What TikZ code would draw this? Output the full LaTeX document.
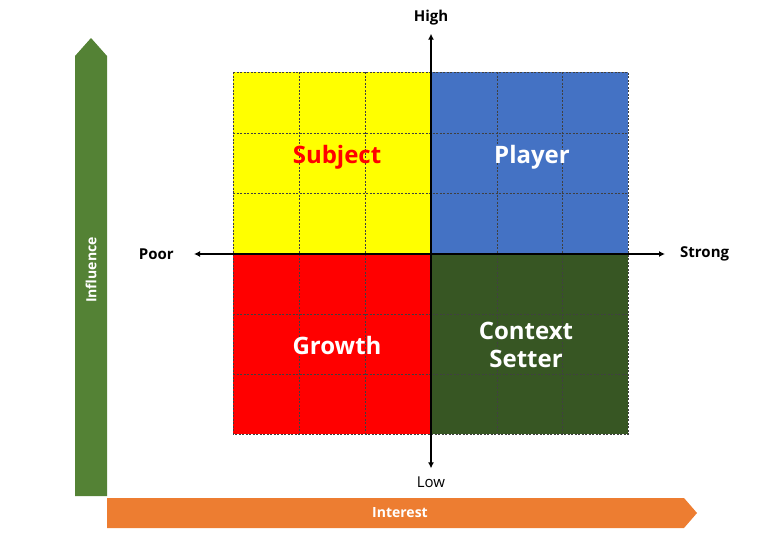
\documentclass[tikz,border=0pt]{standalone}
\usepackage{fontspec}
\setmainfont{Open Sans}
\usetikzlibrary{
	positioning				% relative placement
	, arrows.meta			% Latex tips on the axes
}

\definecolor{quadyellow}{HTML}{FFFF00}
\definecolor{quadblue}{HTML}{4472C4}
\definecolor{quadred}{HTML}{FF0000}
\definecolor{quaddarkgreen}{HTML}{375623}
\definecolor{influencegreen}{HTML}{548235}
\definecolor{interestorange}{HTML}{ED7D31}

\begin{document}
\begin{tikzpicture}[x=1pt, y=-1pt]
			\useasboundingbox (0, 0) rectangle (763, 546);
			\begin{scope}[
				quadrant/.style={draw=black!75, dash pattern=on 2pt off 1.5pt, line width=.9pt},
				cell/.style={draw=black!75, dash pattern=on 2pt off 1.5pt, line width=.9pt},
				quadlabel/.style={font=\fontsize{24}{26}\selectfont\bfseries, text=white, align=center},
				axislabel/.style={font=\fontsize{15}{17}\selectfont\bfseries, inner sep=0},
				axis/.style={draw=black, line width=1.4pt, {Latex[length=6pt,width=6pt]}-{Latex[length=6pt,width=6pt]}},
				barlabel/.style={font=\fontsize{14}{16}\selectfont\bfseries, text=white, inner sep=0}]

				%% Side bars
				\fill[influencegreen] (75, 496) -- (75, 56) -- (91, 38) -- (107, 56) -- (107, 496) -- cycle;
				\node[barlabel, rotate=90] (influence) at (91, 270) {Influence};
				\fill[interestorange] (107, 498) -- (684, 498) -- (697, 513) -- (684, 528) -- (107, 528) -- cycle;
				\node[barlabel] (interest) at (400, 513) {Interest};

				%% Quadrants
				\fill[quadyellow] (233, 72) rectangle (431, 254);
				\fill[quadblue] (431, 72) rectangle (628, 254);
				\fill[quadred] (233, 254) rectangle (431, 434);
				\fill[quaddarkgreen] (431, 254) rectangle (628, 434);

				% Cell lines
				\foreach \x in {299, 365, 497, 562} {
				\draw[cell] (\x, 72) -- (\x, 434);
				}
				\foreach \y in {133, 193, 314, 374} {
				\draw[cell] (233, \y) -- (628, \y);
				}
				\draw[quadrant] (233, 72) rectangle (628, 434);

				% Quadrant labels
				\node[quadlabel, text=quadred] (subject) at (337, 157) {Subject};
				\node[quadlabel] (player) at (532, 157) {Player};
				\node[quadlabel] (growth) at (337, 345) {Growth};
				\node[quadlabel, font=\fontsize{24}{28}\selectfont\bfseries] (setter) at (526, 345) {Context\\Setter};

				%% Axes
				\node[axislabel] (high) at (431, 18) {High};
				\node[axislabel, font=\fontsize{15}{17}\selectfont] (low) at (431, 482) {Low};
				\node[axislabel, anchor=east] (poor) at (174, 254) {Poor};
				\node[axislabel, anchor=west] (strong) at (680, 254) {Strong};

				\draw[axis, shorten <=8pt, shorten >=8pt] (high) -- (low);
				\draw[axis, shorten <=20pt, shorten >=15pt] (poor.east) -- (strong.west);
			\end{scope}
		\end{tikzpicture}
\end{document}
